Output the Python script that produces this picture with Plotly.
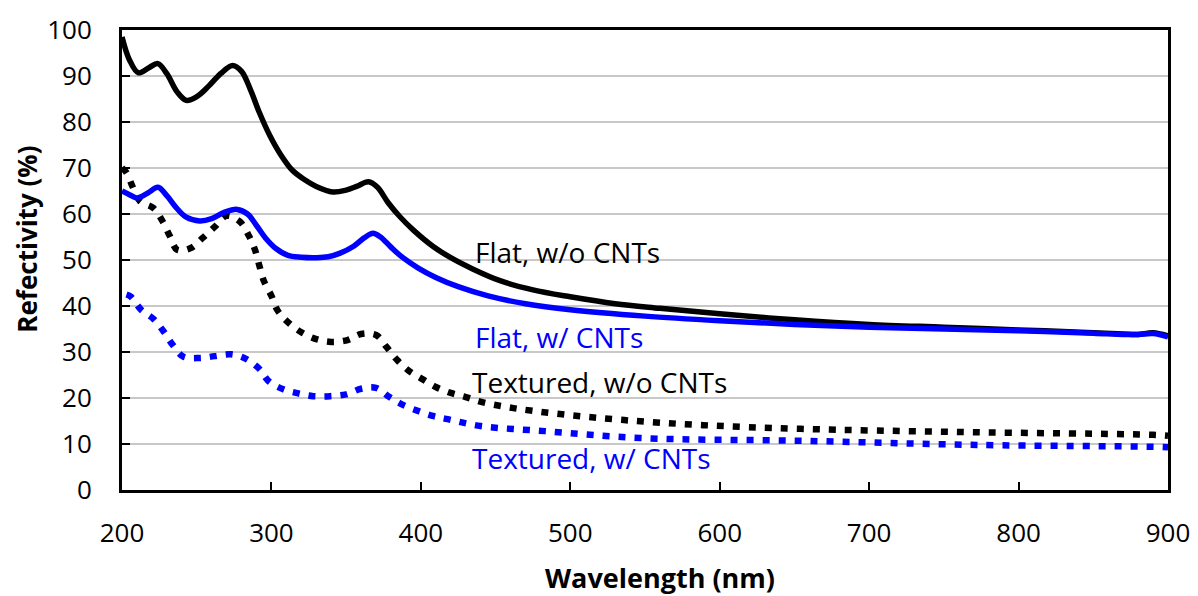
import plotly.graph_objects as go

# ── data ────────────────────────────────────────────────────
flat_wo_wl = [200, 205, 211, 218, 224, 230, 237, 243, 250, 258, 266, 274, 280, 286,
              292, 299, 306, 314, 322, 330, 341, 350, 357, 365, 371, 378, 386, 395,
              408, 420, 435, 453, 475, 500, 530, 560, 600, 650, 700, 750, 800, 850,
              870, 880, 890, 900]
flat_wo_r = [98.5, 93.5, 90.7, 91.8, 92.7, 90.5, 86.5, 84.7, 85.5, 87.8, 90.5, 92.3, 91.0, 87.0,
             82.0, 77.0, 73.0, 69.5, 67.5, 66.0, 64.8, 65.2, 66.0, 67.0, 65.8, 62.5, 59.4, 56.5,
             53.0, 50.5, 48.0, 45.5, 43.5, 42.0, 40.5, 39.5, 38.3, 37.0, 36.0, 35.4, 34.8, 34.2,
             33.9, 33.8, 34.2, 33.5]

flat_w_wl = [200, 205, 210, 217, 224, 230, 236, 243, 252, 260, 268, 277, 284, 290,
             296, 303, 311, 320, 330, 338, 346, 355, 362, 368, 373, 380, 388, 398,
             410, 425, 445, 470, 500, 550, 600, 650, 700, 750, 800, 850, 870, 880,
             890, 900]
flat_w_r = [65.0, 64.2, 63.5, 64.5, 65.8, 64.0, 61.5, 59.3, 58.5, 59.0, 60.3, 61.0, 60.0, 57.5,
            54.8, 52.5, 51.0, 50.6, 50.5, 50.7, 51.5, 53.0, 54.8, 55.8, 55.0, 52.8, 50.5, 48.3,
            46.2, 44.2, 42.2, 40.5, 39.2, 37.8, 36.8, 36.0, 35.4, 35.0, 34.6, 34.1, 33.8, 33.8,
            34.0, 33.3]

tex_wo_wl = [200, 203, 207, 212, 221, 227, 232, 237, 246, 254, 262, 270, 279, 285,
             289, 292, 295, 300, 304, 311, 320, 330, 340, 351, 360, 370, 377, 384,
             392, 401, 410, 420, 430, 441, 462, 493, 536, 589, 654, 761, 890, 900]
tex_wo_r = [70.0, 69.0, 66.0, 62.8, 61.3, 58.5, 55.2, 52.2, 52.6, 54.8, 57.2, 59.6, 58.3, 55.2,
            52.2, 48.7, 45.4, 42.2, 39.1, 36.5, 34.3, 32.8, 32.2, 32.6, 33.9, 33.7, 31.1, 28.3,
            25.9, 24.1, 22.4, 21.1, 20.2, 19.1, 17.8, 16.5, 15.2, 14.1, 13.3, 12.6, 12.0, 11.8]

tex_w_wl = [203, 206, 213, 221, 228, 234, 241, 252, 262, 273, 283, 292, 298, 308,
            318, 328, 339, 350, 360, 370, 379, 388, 398, 408, 418, 440, 483, 547,
            654, 772, 890, 900]
tex_w_r = [42.5, 42.0, 39.1, 37.2, 34.4, 31.5, 29.0, 28.7, 29.1, 29.5, 28.5, 26.3, 23.7, 21.9,
           21.0, 20.4, 20.4, 20.8, 22.0, 22.2, 20.2, 18.5, 17.2, 16.1, 15.4, 13.9, 12.8, 11.3,
           10.7, 9.8, 9.4, 9.3]

labels = ['Flat, w/o CNTs', 'Flat, w/ CNTs', 'Textured, w/o CNTs', 'Textured, w/ CNTs']
label_x = [435, 435, 433, 433]
label_y = [51.7, 33.3, 23.5, 6.9]
label_colors = ['black', '#0000ff', 'black', '#0000ff']

FONT = '"Open Sans", Lato, sans-serif'
DOT = '7px,9px'

fig = go.Figure()

fig.add_trace(go.Scatter(
    x=tex_wo_wl, y=tex_wo_r, mode='lines', name=labels[2],
    line=dict(color='black', width=6.5, dash=DOT, shape='spline', smoothing=1.0),
))
fig.add_trace(go.Scatter(
    x=tex_w_wl, y=tex_w_r, mode='lines', name=labels[3],
    line=dict(color='#0000ff', width=6.5, dash=DOT, shape='spline', smoothing=1.0),
))
fig.add_trace(go.Scatter(
    x=flat_wo_wl, y=flat_wo_r, mode='lines', name=labels[0],
    line=dict(color='black', width=5.5, shape='spline', smoothing=1.0),
))
fig.add_trace(go.Scatter(
    x=flat_w_wl, y=flat_w_r, mode='lines', name=labels[1],
    line=dict(color='#0000ff', width=5.5, shape='spline', smoothing=1.0),
))

for txt, lx, ly, col in zip(labels, label_x, label_y, label_colors):
    fig.add_annotation(
        x=lx, y=ly, text=txt, showarrow=False,
        xanchor='left', yanchor='middle',
        font=dict(family=FONT, size=28, color=col),
    )

# axis titles sit a little off-centre in the original, so place them by hand
fig.add_annotation(
    xref='paper', yref='paper', x=0.514, y=-0.191,
    text='<b>Wavelength (nm)</b>', showarrow=False,
    xanchor='center', yanchor='middle',
    font=dict(family=FONT, size=27, color='black'),
)
fig.add_annotation(
    xref='paper', yref='paper', x=-0.091, y=0.546,
    text='<b>Refectivity (%)</b>', showarrow=False, textangle=-90,
    xanchor='center', yanchor='middle',
    font=dict(family=FONT, size=26, color='black'),
)

# page body has an 8px margin, so the figure is drawn 8px smaller
fig.update_layout(
    width=1190, height=588,
    margin=dict(l=114, r=30, t=22, b=106),
    plot_bgcolor='white',
    paper_bgcolor='white',
    font=dict(family=FONT, size=26, color='black'),
    showlegend=False,
)
fig.update_xaxes(
    range=[200, 900], dtick=100, tick0=200,
    showgrid=False, zeroline=False, automargin=False,
    showline=True, linecolor='black', linewidth=3, mirror=True,
    ticks='inside', ticklen=8, tickwidth=1.5, tickcolor='black',
    tickfont=dict(size=26), ticklabelstandoff=18,
)
fig.update_yaxes(
    range=[0, 100], dtick=10,
    showgrid=True, gridcolor='#c8c8c8', gridwidth=2,
    zeroline=False, automargin=False,
    showline=True, linecolor='black', linewidth=3, mirror=True,
    ticks='inside', ticklen=8, tickwidth=1.5, tickcolor='black',
    tickfont=dict(size=26), ticklabelstandoff=22,
)

fig.write_html("out.html")
